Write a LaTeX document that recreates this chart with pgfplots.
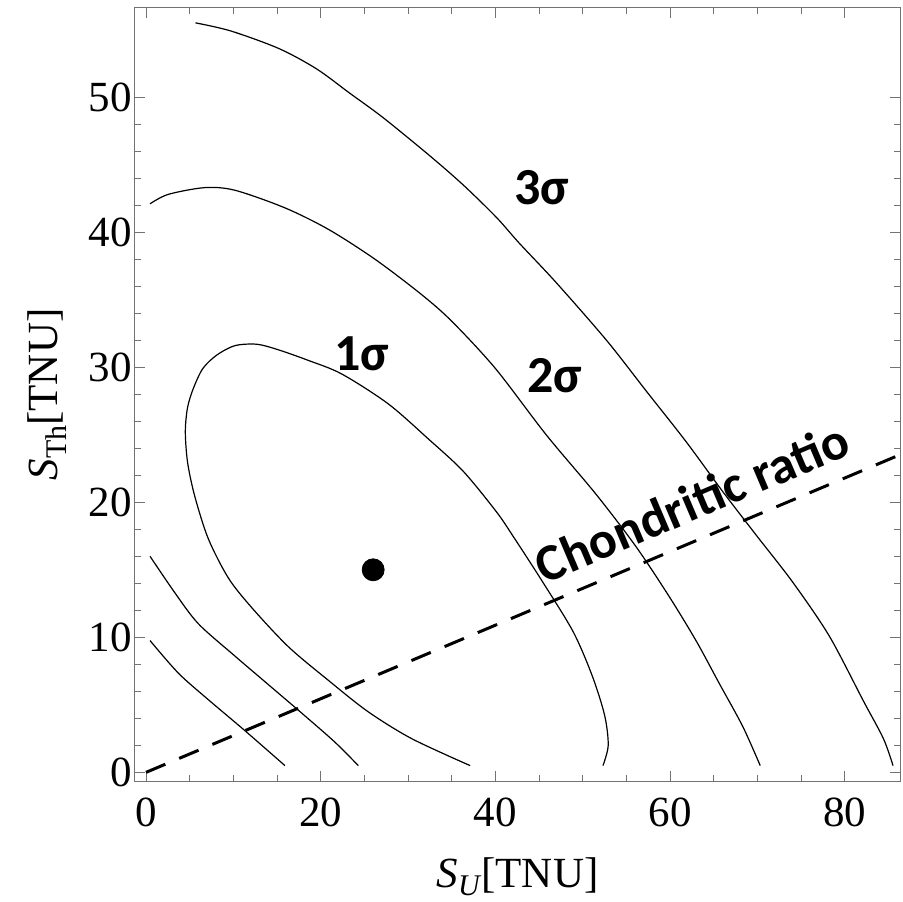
\documentclass[border=0pt]{standalone}
\usepackage{fontspec}
\setmainfont{Liberation Serif}
\newfontfamily\carlito{Carlito}
\usepackage{pgfplots}
\pgfplotsset{compat=1.18}
\definecolor{framegray}{gray}{0.45}
\begin{document}
\begin{tikzpicture}
\begin{axis}[
  at={(0,0)}, anchor=south west,
  scale only axis, width=382.5pt, height=386.5pt,
  xmin=-1.26, xmax=86.3, ymin=-0.64, ymax=56.6,
  axis line style={framegray, line width=0.5pt},
  tick style={framegray, line width=0.5pt},
  tick align=inside,
  major tick length=5pt, minor tick length=3pt,
  xtick={0,20,40,60,80}, ytick={0,10,20,30,40,50},
  minor x tick num=3, minor y tick num=4,
  tick label style={font=\fontsize{21.5}{24}\selectfont},
  /pgf/number format/assume math mode=true,
  xticklabel style={yshift=-5pt},
  yticklabel style={xshift=2pt},
  xlabel={\textit{S}\raisebox{-0.2em}{\fontsize{15}{15}\selectfont\textit{U}}[TNU]},
  ylabel={\textit{S}\raisebox{-0.2em}{\fontsize{15}{15}\selectfont Th}[TNU]},
  xlabel style={at={(axis description cs:0.5,-0.1375)},anchor=base,font=\fontsize{21.5}{24}\selectfont},
  ylabel style={at={(axis description cs:-0.1007,0.5)},anchor=base,font=\fontsize{21.5}{24}\selectfont},
]
% 3 sigma outer
\addplot[black, line width=0.6pt, smooth] coordinates {
(5.66,55.5) (9.7,54.9) (15.2,53.6) (19.5,52.1) (23.3,50.3) (27.1,48.5) (32.4,45.7) (36.3,43.5) (40.1,41.1) (42.7,39.2) (46.9,36.3) (52.7,32.0) (57.3,28.2) (61.8,24.5) (66.0,20.8) (69.8,17.6) (74.0,14.1) (78.2,10.1) (82.1,5.3) (84.4,2.5) (85.5,0.5)};
% 2 sigma outer
\addplot[black, line width=0.6pt, smooth] coordinates {
(0.46,42.1) (2.55,42.8) (6.75,43.3) (10.2,43.1) (15.9,41.8) (20.9,40.2) (26.2,38.0) (31.5,35.4) (35.0,33.4) (40.0,29.9) (45.8,25.0) (51.5,20.6) (56.1,16.7) (59.9,13.0) (63.0,9.7) (65.6,6.6) (68.3,3.4) (70.3,0.5)};
% 1 sigma
\addplot[black, line width=0.6pt, smooth] coordinates {
(37.1,0.5) (30.4,2.5) (25.4,4.5) (20.9,6.8) (16.3,9.3) (12.1,12.2) (9.42,14.4) (7.13,17.3) (5.6,20.4) (4.77,22.9) (4.5,25.2) (4.75,27.0) (5.4,28.4) (6.5,29.9) (8.1,30.9) (10.2,31.6) (12.7,31.7) (15.1,31.3) (18.6,30.5) (22.4,29.5) (27.7,27.3) (32.3,24.7) (36.3,22.3) (40.1,19.3) (42.0,17.5) (45.4,14.1) (48.9,10.4) (51.1,7.1) (52.5,4.2) (52.9,2.0) (52.3,0.5)};
% 2 sigma inner
\addplot[black, line width=0.6pt, smooth] coordinates {
(0.46,16.0) (3.3,13.3) (6.0,11.0) (10.2,8.6) (14.0,6.5) (17.8,4.4) (21.6,2.25) (24.3,0.5)};
% 3 sigma inner
\addplot[black, line width=0.6pt, smooth] coordinates {
(0.46,9.76) (3.7,7.35) (7.1,5.4) (11.3,3.1) (15.9,0.5)};
% chondritic ratio
\addplot[black, line width=1.5pt, dash pattern=on 10.5pt off 7.5pt] coordinates {(0,0) (86.3,23.52)};
% best fit
\addplot[only marks, mark=*, mark size=5.5pt, black] coordinates {(26,15)};
\node[font=\carlito\bfseries\fontsize{26}{30}\selectfont] at (axis cs:24.7,31.0) {1σ};
\node[font=\carlito\bfseries\fontsize{26}{30}\selectfont] at (axis cs:46.8,29.4) {2σ};
\node[font=\carlito\bfseries\fontsize{26}{30}\selectfont] at (axis cs:45.3,43.3) {3σ};
\node[font=\carlito\bfseries\fontsize{26}{30}\selectfont, rotate=23] at (axis cs:62.5,20.0) {Chondritic ratio};
\end{axis}
\pgfresetboundingbox
\path[use as bounding box] (-67.5pt,-60pt) rectangle (384pt,390.5pt);
\end{tikzpicture}
\end{document}
